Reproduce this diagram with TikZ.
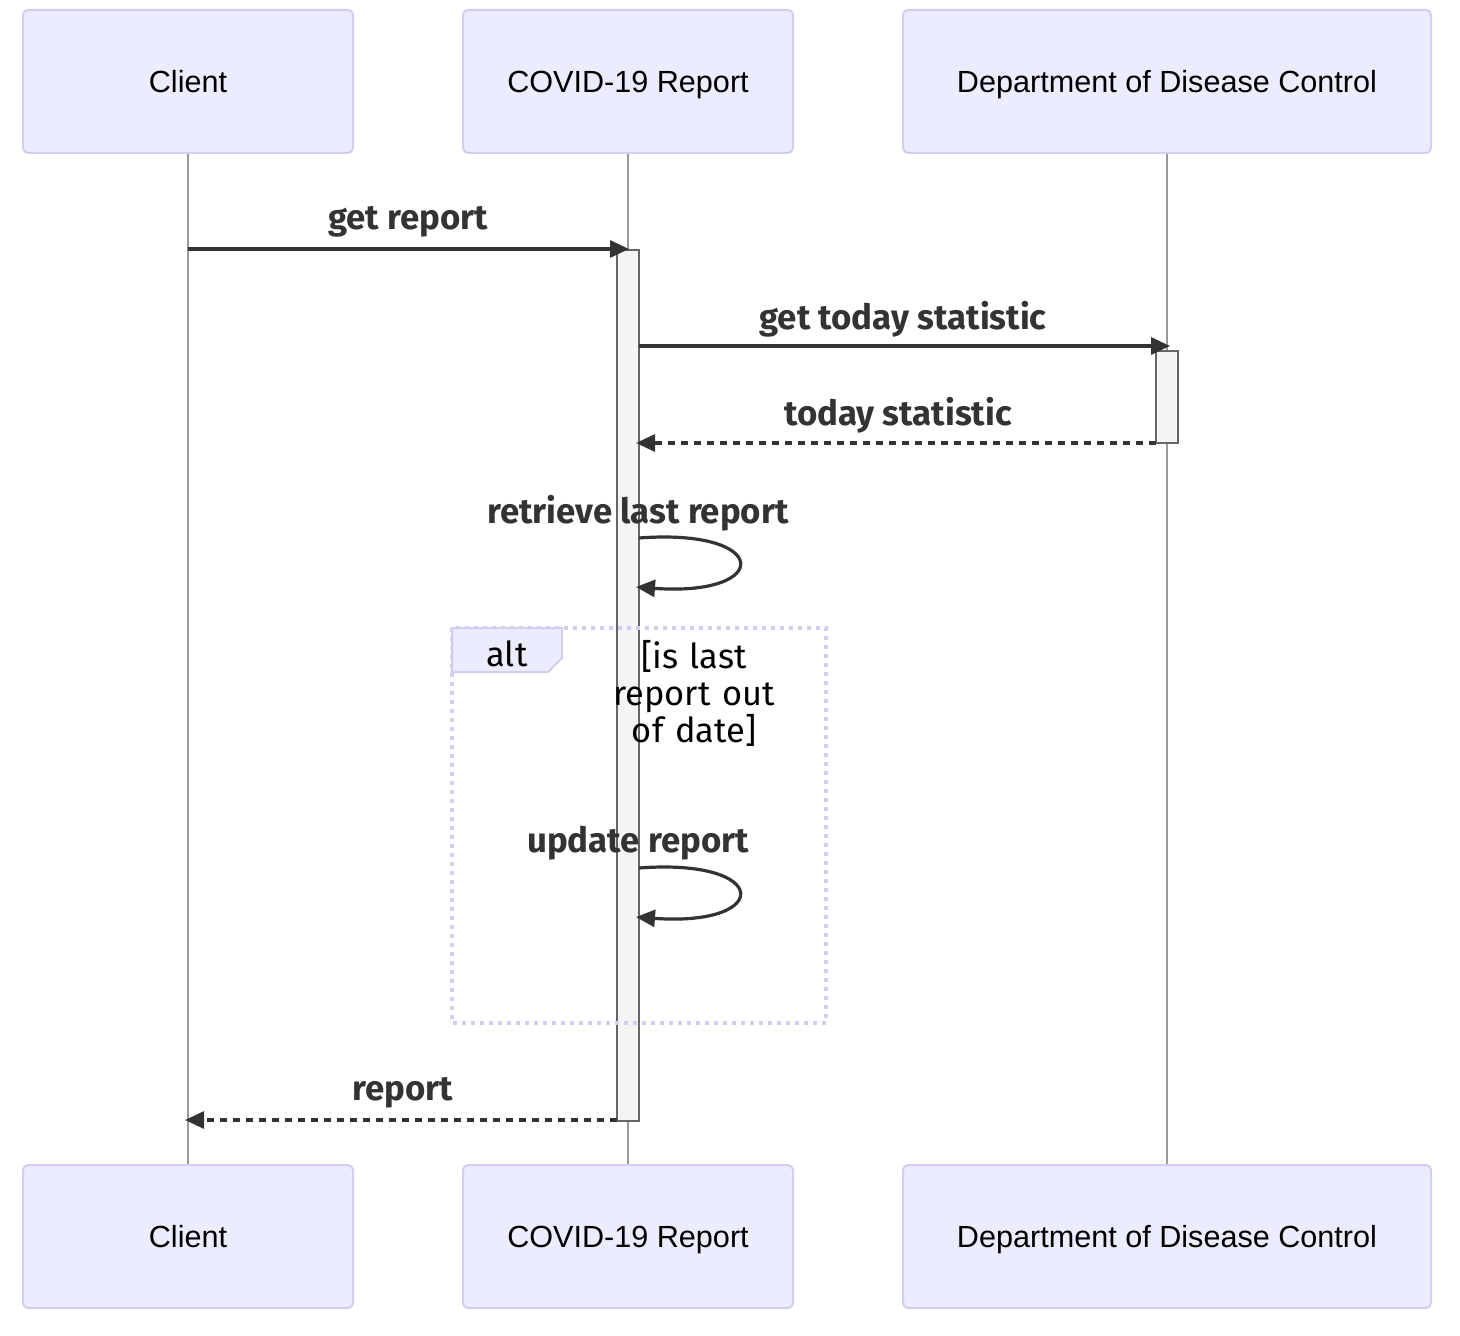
\documentclass[tikz,border=0pt]{standalone}
\usepackage{fontspec}
\setmainfont{Liberation Sans}
\newfontfamily\msgfont{Fira Sans}
\usetikzlibrary{arrows.meta}
\definecolor{actfill}{HTML}{ECECFF}
\definecolor{actline}{HTML}{D5CCF2}
\definecolor{txt}{HTML}{333333}
\definecolor{life}{HTML}{999999}
\definecolor{actvfill}{HTML}{F4F4F4}
\definecolor{actvline}{HTML}{666666}
\begin{document}
\begin{tikzpicture}[x=0.5pt,y=-0.5pt,
  actor/.style={draw=actline,fill=actfill,line width=1pt,rounded corners=2.5pt,
    minimum width=165pt,minimum height=71.5pt,inner sep=0pt,
    font=\fontsize{15.3}{18}\selectfont,text=black,text height=10.95pt,text depth=0pt},
  actorwide/.style={actor,minimum width=264pt},
  lifeline/.style={draw=life,line width=0.6pt},
  activ/.style={draw=actvline,fill=actvfill,line width=1pt},
  msg/.style={draw=txt,line width=1.6pt,-{Triangle[length=9.5pt,width=8.5pt]}},
  retmsg/.style={msg,dash pattern=on 3.5pt off 3pt},
  msglabel/.style={font=\msgfont\bfseries\fontsize{17.4}{20}\selectfont,text=txt,inner sep=0pt},
  altlabel/.style={font=\msgfont\fontsize{17.2}{18.5}\selectfont,text=black,inner sep=0pt,align=center}
]
\useasboundingbox (0,0) rectangle (1460,1336);
% participants
\node[actor] (c1) at (188,81.5) {Client};
\node[actor] (r1) at (628,81.5) {COVID-19 Report};
\node[actorwide] (d1) at (1167,81.5) {Department of Disease Control};
\node[actor] (c2) at (188,1236.5) {Client};
\node[actor] (r2) at (628,1236.5) {COVID-19 Report};
\node[actorwide] (d2) at (1167,1236.5) {Department of Disease Control};
% lifelines
\draw[lifeline] (c1.south) -- (c2.north);
\draw[lifeline] (r1.south) -- (r2.north);
\draw[lifeline] (d1.south) -- (d2.north);
% activations
\draw[activ] (617,250) rectangle (639,1121);
\draw[activ] (1156,351) rectangle (1178,443);
% alt box
\coordinate (altA) at (452,628);
\coordinate (altB) at (826,1023);
\draw[actline,line width=1.6pt,dash pattern=on 2pt off 2.5pt] (altA) rectangle (altB);
\draw[actline,fill=actfill,line width=1pt] (452,628) -- (562,628) -- (562,658) -- (548,672) -- (452,672) -- cycle;
\node[altlabel] (alt) at (507,654) {alt};
\node[altlabel,text width=100pt] (cond) at (694,693) {[is last\\report out\\of date]};
% message coordinates
\coordinate (m1s) at (188,249);
\coordinate (m1e) at (629,249);
\coordinate (m2s) at (639,346);
\coordinate (m2e) at (1170,346);
\coordinate (m3s) at (1156,443);
\coordinate (m3e) at (636,443);
\coordinate (m4s) at (639,538);
\coordinate (m4e) at (636,587);
\coordinate (m5s) at (639,868);
\coordinate (m5e) at (636,917);
\coordinate (m6s) at (617,1120);
\coordinate (m6e) at (185,1120);
% messages
\draw[msg] (m1s) -- (m1e);
\node[msglabel] (l1) at (408,222) {get report};
\draw[msg] (m2s) -- (m2e);
\node[msglabel] (l2) at (903,319) {get today statistic};
\draw[retmsg] (m3s) -- (m3e);
\node[msglabel] (l3) at (898,415) {today statistic};
\draw[msg] (m4s) .. controls (772,528) and (772,597) .. (m4e);
\node[msglabel] (l4) at (638,513) {retrieve last report};
\draw[msg] (m5s) .. controls (772,858) and (772,927) .. (m5e);
\node[msglabel] (l5) at (638,843) {update report};
\draw[retmsg] (m6s) -- (m6e);
\node[msglabel] (l6) at (403,1093) {report};
\end{tikzpicture}
\end{document}
